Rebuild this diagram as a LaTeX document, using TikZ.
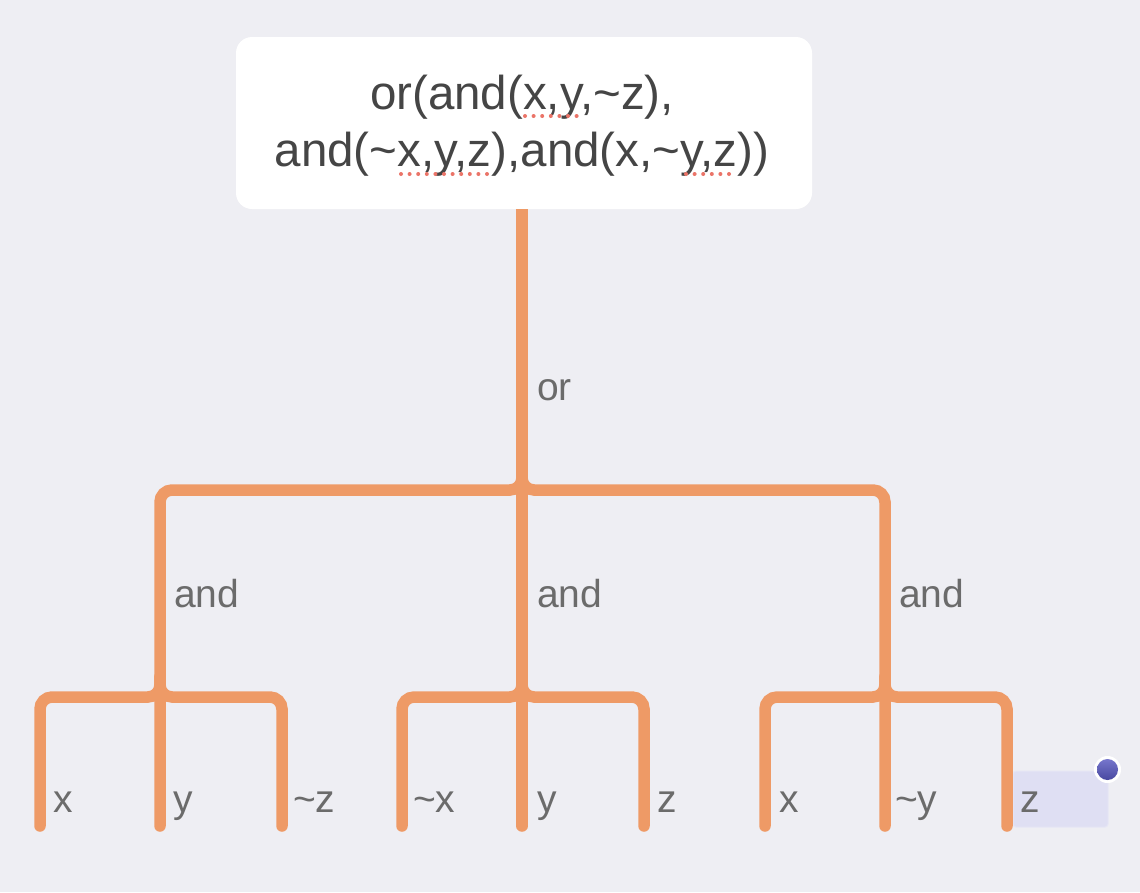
\documentclass[tikz,border=0pt]{standalone}
\usepackage{fontspec}
\setmainfont{Liberation Sans}
\definecolor{bg}{HTML}{EEEEF3}
\definecolor{edgec}{HTML}{EE9A66}
\definecolor{lbl}{HTML}{6B6B6B}
\definecolor{toptext}{HTML}{454545}
\definecolor{spell}{HTML}{EB7468}
\definecolor{selfill}{HTML}{DFDFF3}
\definecolor{seledge}{HTML}{E6E6F5}
\definecolor{dottop}{HTML}{7676CC}
\definecolor{dotbot}{HTML}{4848A0}
\begin{document}
\begin{tikzpicture}[x=1pt,y=-1pt,
  edge/.style={draw=edgec,line width=11.5pt,rounded corners=12pt,line cap=round},
  lab/.style={anchor=base west,inner sep=0pt,text=lbl,font=\fontsize{39}{44}\selectfont},
  topbox/.style={fill=white,rounded corners=16pt,minimum width=576pt,minimum height=172pt,inner sep=0pt},
  toptxt/.style={align=center,inner sep=0pt,text=toptext,font=\fontsize{47.5}{57}\selectfont},
  spellmark/.style={draw=spell,line width=4pt,line cap=round,dash pattern=on 0pt off 8.6pt}]
\fill[bg] (0,0) rectangle (1140,892);
\useasboundingbox (0,0) rectangle (1140,892);

% junctions and leaf ends
\coordinate (j0) at (522,490);
\coordinate (n1) at (160,697);
\coordinate (n2) at (522,697);
\coordinate (n3) at (885,697);
\coordinate (l11) at (40,826);
\coordinate (l12) at (160,826);
\coordinate (l13) at (282,826);
\coordinate (l21) at (402,826);
\coordinate (l22) at (522,826);
\coordinate (l23) at (644,826);
\coordinate (l31) at (765,826);
\coordinate (l32) at (885,826);
\coordinate (l33) at (1007,826);

% selection box
\node[fill=selfill,draw=seledge,line width=1pt,rounded corners=3pt,minimum width=95pt,minimum height=56pt,inner sep=0pt] (sel) at (1060.5,799) {};

% root box
\node[topbox] (top) at (524,123) {};
\node[toptxt] (toplabel) at (522,126) {or(and(x,y,\textasciitilde z),\\and(\textasciitilde x,y,z),and(x,\textasciitilde y,z))};
\draw[spellmark] (525,116) -- (583,116);
\draw[spellmark] (401,174) -- (493,174);
\draw[spellmark] (686,174) -- (737,174);

% edges
\draw[edge,line cap=butt] (top.south -| n2) -- (n2);
\draw[edge] (n2) -- (l22);
\draw[edge] ([yshift=20pt]j0) -- (j0) -| (n1) -- (l12);
\draw[edge] ([yshift=20pt]j0) -- (j0) -| (n3) -- (l32);
\draw[edge] ([yshift=20pt]n1) -- (n1) -| (l11);
\draw[edge] ([yshift=20pt]n1) -- (n1) -| (l13);
\draw[edge] ([yshift=20pt]n2) -- (n2) -| (l21);
\draw[edge] ([yshift=20pt]n2) -- (n2) -| (l23);
\draw[edge] ([yshift=20pt]n3) -- (n3) -| (l31);
\draw[edge] ([yshift=20pt]n3) -- (n3) -| (l33);

% labels
\node[lab] (orlab) at (537,400) {or};
\node[lab] (and1) at (174,607) {and};
\node[lab] (and2) at (537,607) {and};
\node[lab] (and3) at (899,607) {and};
\node[lab] (t11) at (53,812) {x};
\node[lab] (t12) at (173,812) {y};
\node[lab] (t13) at (293,812) {\textasciitilde z};
\node[lab] (t21) at (413,812) {\textasciitilde x};
\node[lab] (t22) at (537,812) {y};
\node[lab] (t23) at (657,812) {z};
\node[lab] (t31) at (779,812) {x};
\node[lab] (t32) at (895,812) {\textasciitilde y};
\node[lab] (t33) at (1020,812) {z};

% selection handle
\fill[white] (sel.north east) ++(-1pt,1pt) circle (13.5pt);
\shade[top color=dottop,bottom color=dotbot] (sel.north east) ++(-1pt,1pt) circle (10.5pt);
\end{tikzpicture}
\end{document}
